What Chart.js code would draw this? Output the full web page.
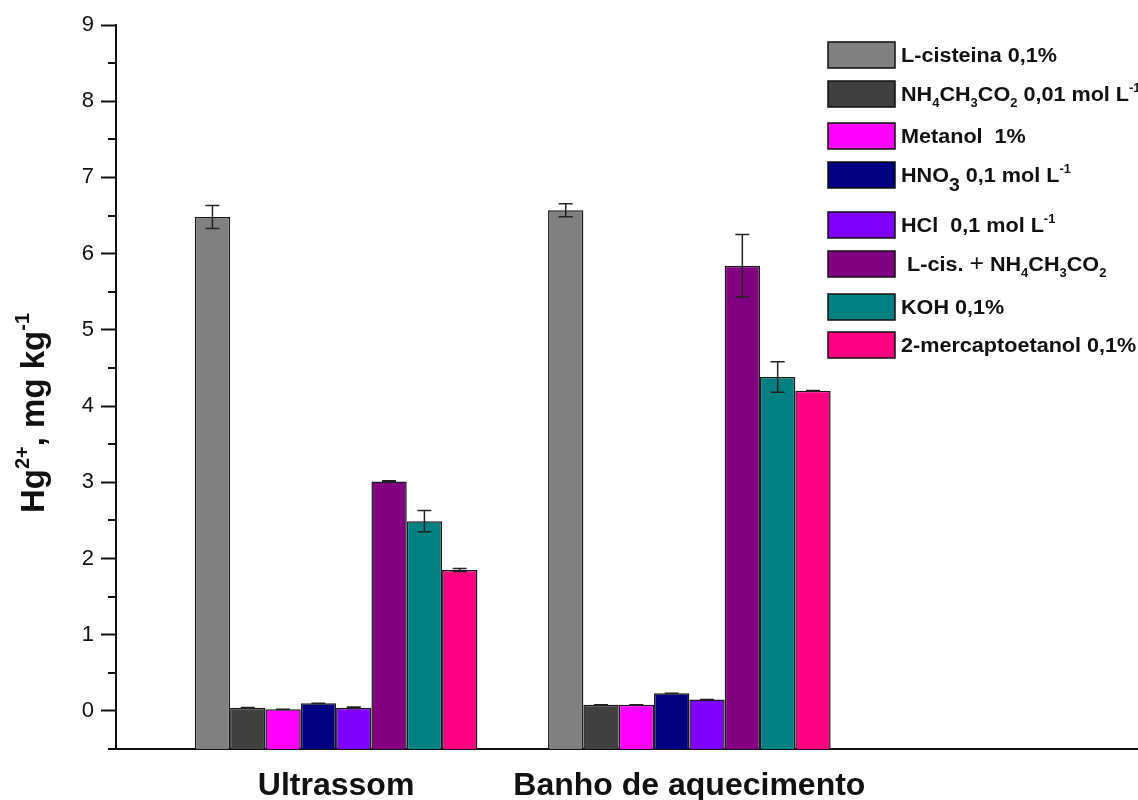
<!DOCTYPE html>
<html>
<head>
<meta charset="utf-8">
<title>Hg2+ extraction</title>
<script src="https://cdn.jsdelivr.net/npm/chart.js@4/dist/chart.umd.min.js"></script>
<style>
  html, body { margin: 0; padding: 0; background: #fff; }
</style>
</head>
<body>
<canvas id="hgChart" width="1138" height="800"></canvas>
<script>
// --- Data ---
const groups = ['Ultrassom', 'Banho de aquecimento'];
const seriesLabels = [
    'L-cisteina 0,1%',
    'NH_{4}CH_{3}CO_{2} 0,01 mol L^{-1}',
    'Metanol  1%',
    'HNO~{3} 0,1 mol L^{-1}',
    'HCl  0,1 mol L^{-1}',
    ' L-cis. !{+} NH_{4}CH_{3}CO_{2}',
    'KOH 0,1%',
    '2-mercaptoetanol 0,1%'
];
const ultrassomValues = [6.48, 0.04, 0.02, 0.10, 0.04, 3.01, 2.49, 1.85];
const ultrassomErrors = [0.15, 0.005, 0, 0, 0.01, 0.01, 0.14, 0.02];
const banhoValues = [6.57, 0.08, 0.08, 0.23, 0.15, 5.84, 4.38, 4.20];
const banhoErrors = [0.085, 0, 0, 0, 0, 0.41, 0.20, 0.005];
const yTicks = [0, 1, 2, 3, 4, 5, 6, 7, 8, 9];

// --- Styles ---
const barColors = ['#808080', '#404040', '#ff00ff', '#000080', '#8000ff', '#800080', '#008080', '#ff0080'];
const FONT = '"Liberation Sans", Arial, Helvetica, sans-serif';
const INK = '#111';
const legendRows = [55, 94, 136, 175, 225, 264, 307, 345];

// --- Rich text helpers ---
// _{..} subscript, ~{..} large subscript, ^{..} superscript, !{..} light glyph
const KIND = { '_': 'sub', '~': 'bigsub', '^': 'sup', '!': 'light' };

function parseRich(str) {
    const parts = [];
    const re = /([_~^!])\{([^}]*)\}/g;
    let last = 0, m;
    while ((m = re.exec(str))) {
        if (m.index > last) parts.push({ text: str.slice(last, m.index), kind: 'n' });
        parts.push({ text: m[2], kind: KIND[m[1]] });
        last = re.lastIndex;
    }
    if (last < str.length) parts.push({ text: str.slice(last), kind: 'n' });
    return parts;
}

function plainText(str) {
    return str.replace(/[_~^!]\{([^}]*)\}/g, '$1');
}

function drawRich(ctx, str, x, y, size, align) {
    const parts = parseRich(str);
    const fontFor = k => {
        if (k === 'n') return 'bold ' + size + 'px ' + FONT;
        if (k === 'bigsub') return 'bold ' + Math.round(size * 0.9) + 'px ' + FONT;
        if (k === 'light') return Math.round(size * 1.15) + 'px ' + FONT;
        return 'bold ' + Math.round(size * 0.6) + 'px ' + FONT;
    };
    const shift = { n: 0, sub: 0.3, bigsub: 0.45, sup: -0.45, light: -0.02 };
    let total = 0;
    parts.forEach(p => {
        ctx.font = fontFor(p.kind);
        p.w = ctx.measureText(p.text).width;
        total += p.w;
    });
    let cx = align === 'center' ? x - total / 2 : x;
    ctx.textAlign = 'left';
    ctx.textBaseline = 'alphabetic';
    parts.forEach(p => {
        ctx.font = fontFor(p.kind);
        ctx.fillText(p.text, cx, y + shift[p.kind] * size);
        cx += p.w;
    });
}

// --- Plugins ---
const errorBars = {
    id: 'errorBars',
    afterDatasetsDraw(chart) {
        const ctx = chart.ctx;
        const y = chart.scales.y;
        ctx.save();
        ctx.strokeStyle = '#222';
        ctx.lineWidth = 1.5;
        chart.data.datasets.forEach((ds, d) => {
            const meta = chart.getDatasetMeta(d);
            meta.data.forEach((bar, i) => {
                const v = ds.data[i].y;
                const e = ds.errors[i];
                const top = y.getPixelForValue(v + e);
                const bot = y.getPixelForValue(v - e);
                ctx.beginPath();
                ctx.moveTo(bar.x, top); ctx.lineTo(bar.x, bot);
                ctx.moveTo(bar.x - 7, top); ctx.lineTo(bar.x + 7, top);
                ctx.moveTo(bar.x - 7, bot); ctx.lineTo(bar.x + 7, bot);
                ctx.stroke();
            });
        });
        ctx.restore();
    }
};

const decorations = {
    id: 'decorations',
    afterDraw(chart) {
        const ctx = chart.ctx;
        const y = chart.scales.y;
        const left = chart.chartArea.left;

        // minor ticks on the value axis
        ctx.save();
        ctx.strokeStyle = INK;
        ctx.lineWidth = 2;
        ctx.beginPath();
        for (let v = y.min; v < y.max; v += 1) {
            const py = Math.round(y.getPixelForValue(v));
            ctx.moveTo(left - 8, py);
            ctx.lineTo(left, py);
        }
        ctx.stroke();
        ctx.restore();

        // value axis title
        ctx.save();
        ctx.fillStyle = INK;
        ctx.translate(44, 413);
        ctx.rotate(-Math.PI / 2);
        drawRich(ctx, 'Hg^{2+}, mg kg^{-1}', 0, 0, 33, 'center');
        ctx.restore();

        // legend
        ctx.save();
        seriesLabels.forEach((label, i) => {
            const cy = legendRows[i];
            ctx.fillStyle = barColors[i];
            ctx.fillRect(828, cy - 13, 67, 26);
            ctx.strokeStyle = INK;
            ctx.lineWidth = 1.5;
            ctx.strokeRect(828, cy - 13, 67, 26);
            ctx.fillStyle = INK;
            ctx.save();
            ctx.translate(901, cy + 7);
            ctx.scale(1.08, 1);
            drawRich(ctx, label, 0, 0, 20, 'left');
            ctx.restore();
        });
        ctx.restore();
    }
};

// --- Chart ---
const datasets = seriesLabels.map((label, i) => ({
    label: plainText(label),
    data: [
        { x: 1, y: ultrassomValues[i] },
        { x: 2, y: banhoValues[i] }
    ],
    errors: [ultrassomErrors[i], banhoErrors[i]],
    backgroundColor: barColors[i],
    borderColor: '#1a1a1a',
    borderWidth: 1.5,
    base: -0.5,
    categoryPercentage: 0.8,
    barPercentage: 1.0
}));

new Chart(document.getElementById('hgChart').getContext('2d'), {
    type: 'bar',
    data: { datasets: datasets },
    options: {
        responsive: false,
        animation: false,
        layout: { padding: { top: 25, right: 0, bottom: 0, left: 0 } },
        plugins: {
            legend: { display: false },
            tooltip: { enabled: false }
        },
        scales: {
            x: {
                type: 'linear',
                min: 0.377,
                max: 3.27,
                offset: false,
                afterBuildTicks: s => { s.ticks = groups.map((g, i) => ({ value: i + 1 })); },
                afterFit: s => { s.height = 51; },
                ticks: {
                    callback: v => groups[v - 1] || '',
                    font: { family: FONT, size: 32, weight: 'bold' },
                    color: INK,
                    padding: 18,
                    autoSkip: false,
                    maxRotation: 0
                },
                grid: { display: false, drawTicks: false },
                border: { display: true, color: INK, width: 2 }
            },
            y: {
                min: -0.5,
                max: 9,
                afterBuildTicks: s => { s.ticks = yTicks.map(v => ({ value: v })); },
                afterFit: s => { s.width = 116; },
                ticks: {
                    font: { family: FONT, size: 22 },
                    color: INK,
                    padding: 7
                },
                grid: {
                    drawOnChartArea: false,
                    drawTicks: true,
                    tickLength: 15,
                    tickWidth: 2,
                    tickColor: INK
                },
                border: { color: INK, width: 2 }
            }
        }
    },
    plugins: [errorBars, decorations]
});
</script>
</body>
</html>
